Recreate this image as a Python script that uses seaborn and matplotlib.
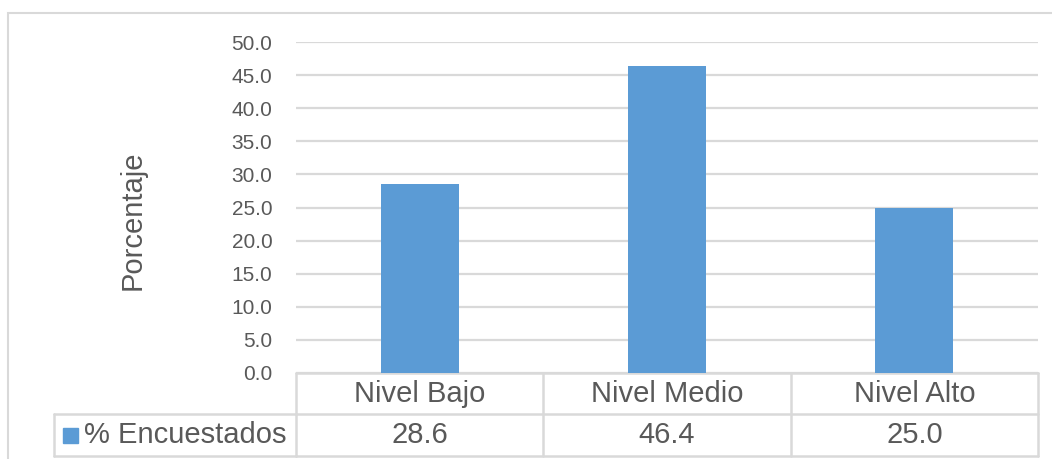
import numpy as np
import pandas as pd
import matplotlib
matplotlib.use("Agg")
import matplotlib.pyplot as plt
import matplotlib.transforms as mtransforms
from matplotlib.patches import Rectangle
import seaborn as sns

categories = ["Nivel Bajo", "Nivel Medio", "Nivel Alto"]
values = [28.6, 46.4, 25.0]
series_name = "% Encuestados"
y_label = "Porcentaje"
y_ticks = [0, 5, 10, 15, 20, 25, 30, 35, 40, 45, 50]

bar_color = "#5B9BD5"
grid_color = "#D9D9D9"
text_color = "#595959"

sns.set_style("white")
plt.rcParams['font.family'] = ['Liberation Sans', 'DejaVu Sans']

df = pd.DataFrame({"Nivel": categories, "Porcentaje": values})

fig = plt.figure(figsize=(10.52, 4.59), dpi=100)
W, H = 1052, 459
ax = fig.add_axes([296 / W, 1 - 373 / H, (1038 - 296) / W, (373 - 42) / H])

sns.barplot(data=df, x="Nivel", y="Porcentaje", color=bar_color, width=0.315,
            saturation=1, ax=ax, zorder=3, edgecolor=bar_color, linewidth=0)
ax.set_xlim(-0.5, len(categories) - 0.5)
ax.set_ylim(0, 50)
ax.set_yticks(y_ticks)
ax.set_yticklabels([f"{t:.1f}" for t in y_ticks], fontsize=15, color=text_color)
ax.tick_params(axis="y", length=0, pad=17)
ax.set_xticks([])
ax.set_xlabel("")
ax.set_ylabel("")
ax.yaxis.grid(True, color=grid_color, linewidth=1.6, zorder=0)
for s in ax.spines.values():
    s.set_visible(False)

fig.text(133 / W, 1 - 220 / H, y_label, rotation=90, fontsize=21,
         color=text_color, ha="center", va="center")

# data table below the plot
btr = mtransforms.blended_transform_factory(ax.transData, ax.transAxes)
ftr = mtransforms.blended_transform_factory(fig.transFigure, ax.transAxes)
row1 = -(414 - 373) / (373 - 42)
row2 = -(456 - 373) / (373 - 42)
n = len(categories)
lkw = dict(color=grid_color, linewidth=1.8, clip_on=False)

ax.plot([-0.5, n - 0.5], [0, 0], transform=btr, **lkw)
ax.plot([-0.5, n - 0.5], [row1, row1], transform=btr, **lkw)
ax.plot([-0.5, n - 0.5], [row2, row2], transform=btr, **lkw)
for i in range(n + 1):
    ax.plot([i - 0.5, i - 0.5], [0, row2], transform=btr, **lkw)
left = 54 / W
x0 = 296 / W
ax.plot([left, x0], [row1, row1], transform=ftr, **lkw)
ax.plot([left, x0], [row2, row2], transform=ftr, **lkw)
ax.plot([left, left], [row1, row2], transform=ftr, **lkw)

for i, (c, v) in enumerate(zip(categories, values)):
    ax.text(i, row1 / 2, c, transform=btr, ha="center", va="center",
            fontsize=21, color=text_color)
    ax.text(i, (row1 + row2) / 2, f"{v:.1f}", transform=btr, ha="center",
            va="center", fontsize=21, color=text_color)

sq = 15 / (373 - 42)
ax.add_patch(Rectangle((63 / W, (row1 + row2) / 2 - sq / 2), 15 / W, sq,
                       transform=ftr, color=bar_color, clip_on=False))
ax.text(84 / W, (row1 + row2) / 2, series_name, transform=ftr, ha="left",
        va="center", fontsize=21, color=text_color)

# outer chart frame
fig.patches.append(Rectangle((8 / W, -0.1), 1.2, 1 - 13 / H + 0.1,
                             transform=fig.transFigure, fill=False,
                             edgecolor=grid_color, linewidth=1.5))

fig.savefig("out.png", dpi=100)
